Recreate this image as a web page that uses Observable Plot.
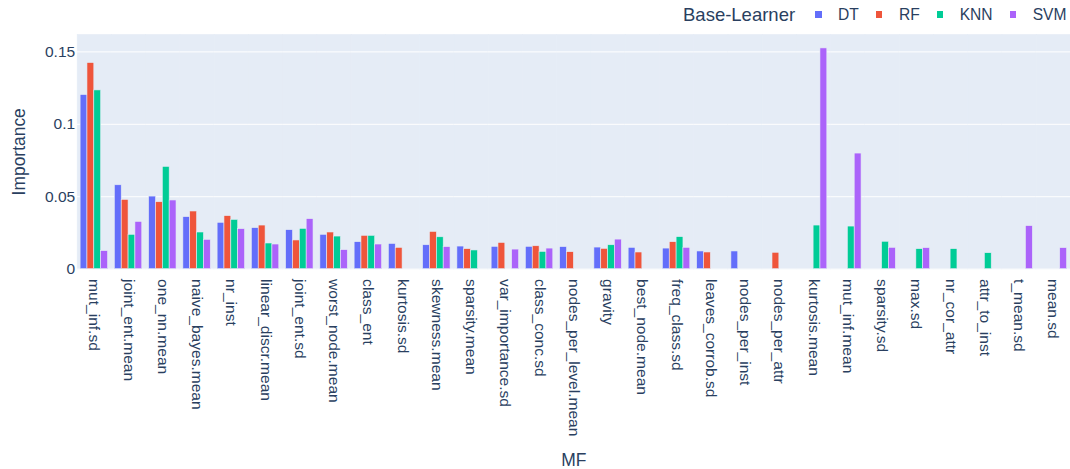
<!DOCTYPE html>
<html>
<head>
<meta charset="utf-8">
<script src="https://cdn.jsdelivr.net/npm/d3@7"></script>
<script src="https://cdn.jsdelivr.net/npm/@observablehq/plot@0.6"></script>
<style>
  html, body { margin: 0; padding: 0; background: white; overflow: hidden; }
  #wrap { position: relative; width: 1070px; height: 469px; overflow: hidden; font-family: "Liberation Sans", Arial, sans-serif; color: #2a3f5f; }
  #legend { position: relative; height: 34px; width: 1070px; }
  #legend .row { position: absolute; left: 683px; top: 5px; height: 20px; display: flex; align-items: center; white-space: nowrap; }
  #legend .title { font-size: 18.5px; margin-right: 20px; }
  #legend .sw { width: 6.5px; height: 6.5px; margin-right: 16.5px; margin-top: -1px; }
  #legend .lab { font-size: 15.6px; margin-right: 17px; }
</style>
</head>
<body>
<div id="wrap">
  <div id="legend"><div class="row"></div></div>
  <div id="chart"></div>
</div>
<script>
const categories = ["mut_inf.sd","joint_ent.mean","one_nn.mean","naive_bayes.mean","nr_inst","linear_discr.mean","joint_ent.sd","worst_node.mean","class_ent","kurtosis.sd","skewness.mean","sparsity.mean","var_importance.sd","class_conc.sd","nodes_per_level.mean","gravity","best_node.mean","freq_class.sd","leaves_corrob.sd","nodes_per_inst","nodes_per_attr","kurtosis.mean","mut_inf.mean","sparsity.sd","max.sd","nr_cor_attr","attr_to_inst","t_mean.sd","mean.sd"];
const learners = ["DT","RF","KNN","SVM"];
const colors = ["#636efa","#EF553B","#00cc96","#ab63fa"];
const dtValues  = [0.1202,0.0579,0.0501,0.0359,0.0320,0.0283,0.0269,0.0237,0.0186,0.0174,0.0165,0.0156,0.0154,0.0154,0.0152,0.0149,0.0147,0.0142,0.0122,0.0122,null,null,null,null,null,null,null,null,null];
const rfValues  = [0.1423,0.0478,0.0462,0.0398,0.0366,0.0301,0.0198,0.0253,0.0230,0.0147,0.0257,0.0138,0.0181,0.0158,0.0117,0.0140,0.0115,0.0186,0.0115,null,0.0113,null,null,null,null,null,null,null,null];
const knnValues = [0.1234,0.0237,0.0706,0.0253,0.0340,0.0177,0.0278,0.0225,0.0230,null,0.0220,0.0129,null,0.0119,null,0.0165,null,0.0221,null,null,null,0.0301,0.0294,0.0189,0.0138,0.0138,0.0110,null,null];
const svmValues = [0.0124,0.0326,0.0474,0.0202,0.0276,0.0170,0.0345,0.0131,0.0170,null,0.0152,null,0.0135,0.0142,null,0.0204,null,0.0147,null,null,null,0.1524,0.0798,0.0147,0.0145,null,null,0.0297,0.0145];
const yTicks = [0, 0.05, 0.1, 0.15];
const yTickLabels = ["0", "0.05", "0.1", "0.15"];

const series = [dtValues, rfValues, knnValues, svmValues];
const rows = [];
categories.forEach((c, i) => {
  learners.forEach((l, j) => {
    const v = series[j][i];
    if (v != null) rows.push({MF: c, learner: l, value: v});
  });
});

// legend
const row = document.querySelector("#legend .row");
const t = document.createElement("span");
t.className = "title"; t.textContent = "Base-Learner";
row.appendChild(t);
learners.forEach((l, j) => {
  const sw = document.createElement("span");
  sw.className = "sw"; sw.style.background = colors[j];
  row.appendChild(sw);
  const lab = document.createElement("span");
  lab.className = "lab"; lab.textContent = l;
  row.appendChild(lab);
});

const H = 435;
const plotBottom = 235.3;
const chart = Plot.plot({
  width: 1073,
  height: H,
  marginLeft: 76.9,
  marginRight: 0,
  marginTop: 0,
  marginBottom: H - plotBottom,
  style: {fontFamily: "'Liberation Sans', Arial, sans-serif", fontSize: "15.6px", color: "#2a3f5f", background: "transparent", overflow: "visible"},
  fx: {domain: categories, padding: 0, round: false, label: null},
  x: {domain: learners, paddingInner: 0, paddingOuter: 0.5, round: false, axis: null},
  y: {domain: [0, 0.162], label: null},
  color: {domain: learners, range: colors},
  marks: [
    Plot.frame({fill: "#E5ECF6", stroke: "#E5ECF6", strokeWidth: 0.6}),
    Plot.gridY(yTicks, {stroke: "white", strokeOpacity: 1, strokeWidth: 1}),
    Plot.barY(rows, {fx: "MF", x: "learner", y: "value", fill: "learner", stroke: "#E5ECF6", strokeWidth: 0.6}),
    Plot.axisY(yTicks, {anchor: "left", tickSize: 0, tickPadding: 2, tickFormat: d => yTickLabels[yTicks.indexOf(d)], label: "Importance", labelAnchor: "center", labelArrow: "none", labelOffset: 65, fontSize: 15.6}),
    Plot.axisFx({anchor: "bottom", tickRotate: 90, tickSize: 0, tickPadding: 10, label: "MF", labelAnchor: "center", labelArrow: "none", labelOffset: 197, fontSize: 15.6})
  ]
});
d3.select(chart).selectAll("[aria-label='y-axis label'] text, [aria-label='fx-axis label'] text").attr("font-size", 17.5).style("font-size", "17.5px");
document.getElementById("chart").appendChild(chart);
</script>
</body>
</html>
